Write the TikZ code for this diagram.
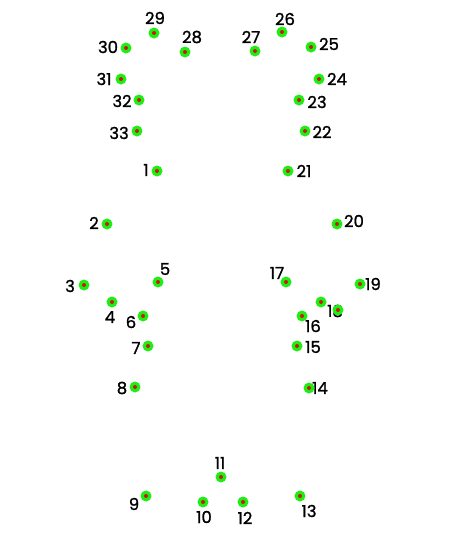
\documentclass[tikz,border=0pt]{standalone}
\usepackage{fontspec}
\setmainfont{Poppins}[FakeBold=1.2]
\definecolor{dotgreen}{RGB}{30,238,20}
\definecolor{dotred}{RGB}{205,25,10}
\tikzset{
  x=1pt,y=-1pt,
  dotpt/.style={circle,fill=dotgreen,minimum size=11pt,inner sep=0pt,
    path picture={\fill[dotred] (path picture bounding box.center) circle (2pt);}},
  lbl/.style={font=\fontsize{16.5}{16.5}\selectfont,text=black,inner sep=0pt}
}
\begin{document}
\begin{tikzpicture}
\useasboundingbox (0,0) rectangle (452,536);
\fill[white] (0,0) rectangle (452,536);
% labels
\foreach \n/\x/\y in {29/155/18,30/108/47,28/192/37,31/104/79,27/251/37,26/285/19,25/329/44,24/337/79,32/122/101,23/317/102,33/119/133,22/322/132,1/146/170,21/304/171,2/94/223,20/354/221,3/70/286,5/165/269,17/277/273,19/373/284,4/110/317,16/313/326,18/335/311,6/131/322,7/136/348,15/313/347,8/122/388,14/320/388,11/220/463,9/134/504,10/204/517,12/245/518,13/309/511}
  \node[lbl] (l\n) at (\x,\y) {\n};
% dots
\foreach \n/\x/\y in {29/154/33,30/126/48,28/185/52,31/121/79,27/255/51,26/282/32,25/311/47,24/319/79,32/139/100,23/299/100,33/137/131,22/305/131,1/157/171,21/288/171,2/107/224,20/337/224,3/84/285,5/158/282,17/286/282,19/360/284,4/112/302,a/321/302,18/338/310,16/302/316,6/143/316,7/148/346,15/297/346,8/135/387,14/309/388,11/221/477,9/146/496,10/203/502,12/243/502,13/300/496}
  \node[dotpt] (p\n) at (\x,\y) {};
\end{tikzpicture}
\end{document}
